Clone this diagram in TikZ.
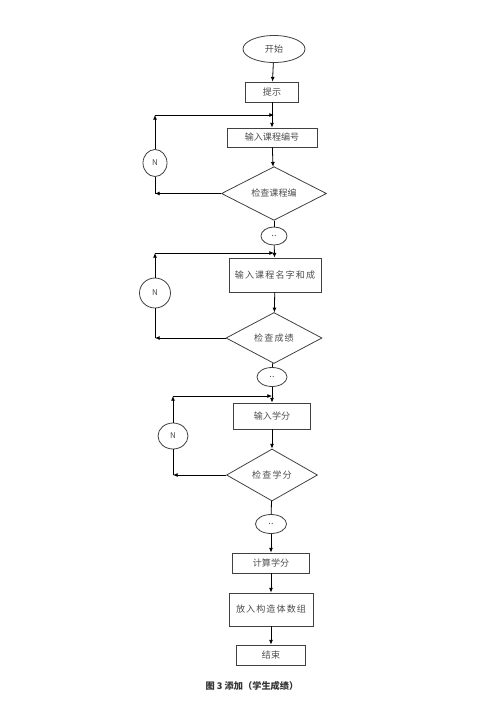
\documentclass[tikz,border=0pt]{standalone}
\usepackage{fontspec}
\setmainfont{Noto Sans CJK SC}
\newfontfamily\wide[LetterSpace=12]{Noto Sans CJK SC}
\usepackage{tikz}
\usetikzlibrary{shapes.geometric,arrows.meta}

\begin{document}
\begin{tikzpicture}[x=0.75pt,y=-0.75pt,
	box/.style={shape=rectangle,draw=black!75,inner sep=0pt,text=black!70,font=\fontsize{6.8}{8}\selectfont},
	test/.style={shape=diamond,draw=black!75,inner sep=0pt,text=black!70,font=\fontsize{6.8}{8}\selectfont},
	oval/.style={shape=ellipse,draw=black!75,inner sep=0pt,text=black!70,font=\fontsize{6.8}{8}\selectfont},
	every path/.style={line width=0.6pt},
	>={Latex[length=3.5pt,width=3pt]}]
	\useasboundingbox (0,0) rectangle (500,707);
	\node[oval,minimum width=46.5pt,minimum height=20.25pt] (start) at (274, 49) {开始};
	\node[box,minimum width=39.75pt,minimum height=15pt] (tip) at (272, 92) {提示};
	\coordinate (j1) at (274, 115);
	\node[box,minimum width=67.5pt,minimum height=14.25pt] (in1) at (272, 137.5) {输入课程编号};
	\node[test,minimum width=78.75pt,minimum height=39.75pt] (chk1) at (274, 193.5) {检查课程编};
	\node[oval,minimum width=19.5pt,minimum height=13.5pt] (ok1) at (274, 236) {..};
	\coordinate (c1t) at (155, 115);
	\coordinate (c1b) at (155, 193.5);
	\node[oval,font=\fontsize{6}{7}\selectfont,minimum width=18pt,minimum height=20.25pt] (n1) at (155, 163) {N};
	\coordinate (j2) at (274, 253);
	\node[box,minimum width=69pt,minimum height=25.5pt] (in2) at (275, 275) {\wide 输入课程名字和成};
	\node[test,minimum width=72pt,minimum height=38.25pt] (chk2) at (274, 338) {\wide 检查成绩};
	\node[oval,minimum width=22.5pt,minimum height=14.25pt] (ok2) at (272, 377) {..};
	\coordinate (c2t) at (155, 253);
	\coordinate (c2b) at (155, 338);
	\node[oval,font=\fontsize{6}{7}\selectfont,minimum width=23.25pt,minimum height=22.5pt] (n2) at (155, 293) {N};
	\coordinate (j3) at (272, 396);
	\node[box,minimum width=57.75pt,minimum height=19.5pt] (in3) at (272, 416) {输入学分};
	\node[test,minimum width=68.25pt,minimum height=39pt] (chk3) at (272, 475) {\wide 检查学分};
	\node[oval,minimum width=23.25pt,minimum height=14.25pt] (ok3) at (271, 524) {..};
	\coordinate (c3t) at (173, 396);
	\coordinate (c3b) at (173, 475);
	\node[oval,font=\fontsize{6}{7}\selectfont,minimum width=22.5pt,minimum height=19.5pt] (n3) at (173, 436) {N};
	\node[box,minimum width=57.75pt,minimum height=15pt] (calc) at (271, 563) {计算学分};
	\node[box,minimum width=63pt,minimum height=24.75pt] (put) at (271, 609.5) {\wide 放入构造体数组};
	\node[box,minimum width=51.75pt,minimum height=15pt] (end) at (271, 655) {结束};
	\node[font=\fontsize{6.9}{8}\selectfont\bfseries,text=black!80] (cap) at (252, 686) {图 3 添加（学生成绩）};
	\path[->] (start) edge (tip);
	\path[->] (tip) edge (in1);
	\path[->] (in1) edge (chk1);
	\path[-] (chk1) edge (ok1);
	\path[->] (ok1) edge (in2);
	\path[->] (chk1) edge (c1b);
	\path[-] (c1b) edge (n1);
	\path[->] (n1) edge (c1t);
	\path[->] (c1t) edge (j1);
	\path[->] (in2) edge (chk2);
	\path[-] (chk2) edge (ok2);
	\path[->] (ok2) edge (in3);
	\path[->] (chk2) edge (c2b);
	\path[-] (c2b) edge (n2);
	\path[->] (n2) edge (c2t);
	\path[->] (c2t) edge (j2);
	\path[->] (in3) edge (chk3);
	\path[-] (chk3) edge (ok3);
	\path[->] (ok3) edge (calc);
	\path[->] (chk3) edge (c3b);
	\path[-] (c3b) edge (n3);
	\path[->] (n3) edge (c3t);
	\path[->] (c3t) edge (j3);
	\path[->] (calc) edge (put);
	\path[->] (put) edge (end);
\end{tikzpicture}
\end{document}
